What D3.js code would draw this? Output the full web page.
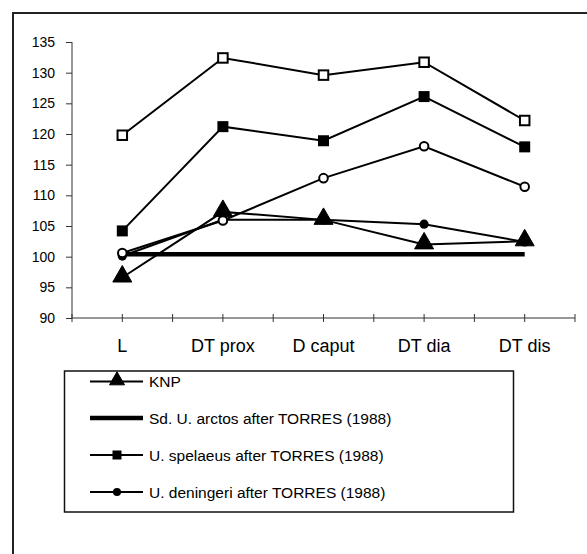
<!DOCTYPE html>
<html><head><meta charset="utf-8">
<script src="https://cdn.jsdelivr.net/npm/d3@7/dist/d3.min.js"></script>
<style>html,body{margin:0;padding:0;background:#fff;}svg{display:block;}text{font-family:Arial,"Liberation Sans",sans-serif;fill:#000;}</style>
</head><body><svg id="c" width="587" height="554"></svg>
<script>
const categories = ["L", "DT prox", "D caput", "DT dia", "DT dis"];
const yTicks = [90, 95, 100, 105, 110, 115, 120, 125, 130, 135];
const knp = [96.6, 107.3, 106.0, 102.0, 102.5];
const arctos = [100.4, 100.4, 100.4, 100.4, 100.4];
const spelaeus = [104.2, 121.2, 118.9, 126.1, 117.9];
const deningeri = [100.1, 106.0, 106.0, 105.3, 102.4];
const seriesOpenSquare = [119.8, 132.4, 129.6, 131.7, 122.2];
const seriesOpenCircle = [100.6, 105.9, 112.8, 118.0, 111.4];
const seriesNames = ["KNP", "Sd. U. arctos after TORRES (1988)", "U. spelaeus after TORRES (1988)", "U. deningeri after TORRES (1988)", "series 5", "series 6"];

const series = [
  {name: seriesNames[0], values: knp, marker: "triangle", fill: "#000", width: 2},
  {name: seriesNames[1], values: arctos, marker: "none", fill: "#000", width: 4.5},
  {name: seriesNames[2], values: spelaeus, marker: "square", fill: "#000", width: 2},
  {name: seriesNames[3], values: deningeri, marker: "circle", fill: "#000", width: 2},
  {name: seriesNames[4], values: seriesOpenSquare, marker: "square", fill: "#fff", width: 2},
  {name: seriesNames[5], values: seriesOpenCircle, marker: "circle", fill: "#fff", width: 2}
];

const svg = d3.select("#c");
// outer chart border
svg.append("rect").attr("x", 13).attr("y", 13).attr("width", 600).attr("height", 600)
  .attr("fill", "none").attr("stroke", "#222").attr("stroke-width", 2);

const x = d3.scaleBand().domain(categories).range([72, 575]).paddingInner(0).paddingOuter(0);
const cx = c => x(c) + x.bandwidth() / 2;
const y = d3.scaleLinear().domain([90, 135]).range([318, 42]);

// y axis
const gy = svg.append("g").attr("transform", "translate(72,0)")
  .call(d3.axisLeft(y).tickValues(yTicks).tickSize(6).tickPadding(11).tickFormat(d3.format("d")));
gy.selectAll("path,line").attr("stroke", "#333").attr("stroke-width", 1);
gy.select(".domain").attr("d", `M0,${y(90)}V${y(135)}`);
gy.selectAll("text").style("font-size", "14px").style("font-family", "Arial, 'Liberation Sans', sans-serif");

// x axis
const gx = svg.append("g");
gx.append("line").attr("x1", 72).attr("x2", 575).attr("y1", y(90)).attr("y2", y(90))
  .attr("stroke", "#333").attr("stroke-width", 1);
const tickPos = [];
categories.forEach(c => { tickPos.push(x(c)); tickPos.push(cx(c)); });
tickPos.push(x(categories[categories.length - 1]) + x.bandwidth());
gx.selectAll("line.t").data(tickPos).enter().append("line").attr("class", "t")
  .attr("x1", d => d).attr("x2", d => d).attr("y1", y(90) - 4).attr("y2", y(90) + 4)
  .attr("stroke", "#333").attr("stroke-width", 1);
gx.selectAll("text").data(categories).enter().append("text")
  .attr("x", d => cx(d)).attr("y", 352).attr("text-anchor", "middle")
  .style("font-size", "18px").text(d => d);

// lines & markers
const line = d3.line().x((d, i) => cx(categories[i])).y(d => y(d));
function drawMarker(g, type, fill, px, py, size) {
  if (type === "triangle") {
    const s = size || 19;
    g.append("path").attr("d", d3.symbol().type(d3.symbolTriangle).size(s * s * 0.433)())
      .attr("transform", `translate(${px},${py - 1})`).attr("fill", fill).attr("stroke", "#000").attr("stroke-width", 1);
  } else if (type === "square") {
    const s = size || (fill === "#fff" ? 9.5 : 11);
    g.append("rect").attr("x", px - s / 2).attr("y", py - s / 2).attr("width", s).attr("height", s)
      .attr("fill", fill).attr("stroke", "#000").attr("stroke-width", fill === "#fff" ? 2 : 0);
  } else if (type === "circle") {
    const r = size || (fill === "#fff" ? 4.3 : 4.6);
    g.append("circle").attr("cx", px).attr("cy", py).attr("r", r)
      .attr("fill", fill).attr("stroke", "#000").attr("stroke-width", fill === "#fff" ? 2 : 0);
  }
}
series.forEach(s => {
  const g = svg.append("g");
  g.append("path").attr("d", line(s.values)).attr("fill", "none")
    .attr("stroke", "#000").attr("stroke-width", s.width).attr("stroke-linejoin", "miter");
  s.values.forEach((v, i) => drawMarker(g, s.marker, s.fill, cx(categories[i]), y(v)));
});

// legend (only first four entries visible)
const lg = svg.append("g");
lg.append("rect").attr("x", 64.5).attr("y", 371).attr("width", 449).attr("height", 141)
  .attr("fill", "#fff").attr("stroke", "#111").attr("stroke-width", 1.5);
const legendY = [381.5, 418, 455, 492];
series.slice(0, 4).forEach((s, i) => {
  const ly = legendY[i];
  lg.append("line").attr("x1", 90).attr("x2", 143).attr("y1", ly).attr("y2", ly)
    .attr("stroke", "#000").attr("stroke-width", s.width);
  const size = s.marker === "triangle" ? 15 : (s.marker === "square" ? 9 : 4);
  drawMarker(lg, s.marker, s.fill, 117, ly, size);
  lg.append("text").attr("x", 149).attr("y", ly + 5.5).style("font-size", "15.5px").text(s.name);
});
</script></body></html>
